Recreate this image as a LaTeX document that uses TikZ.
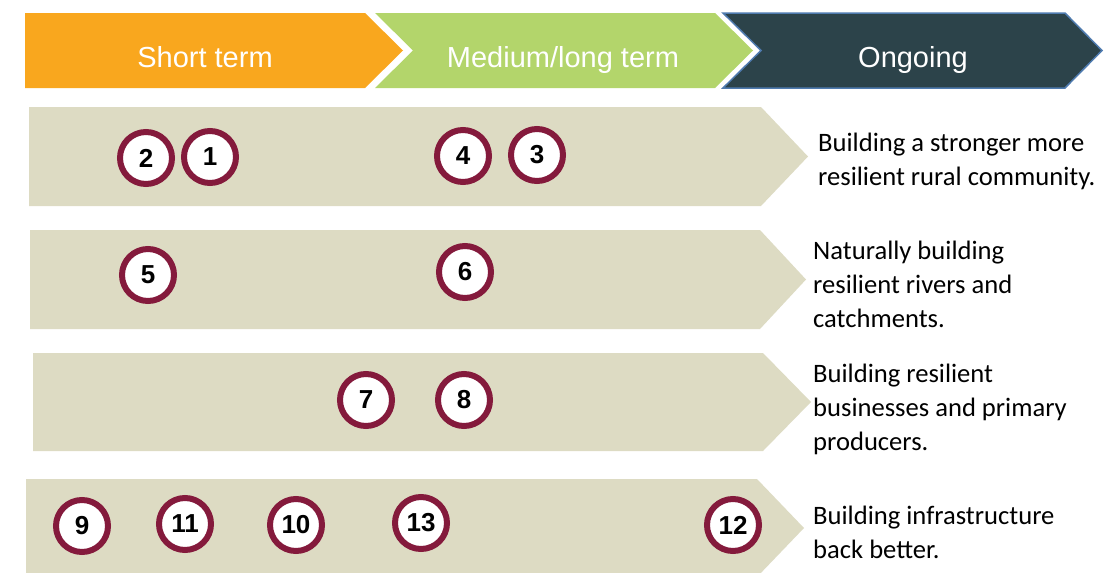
\documentclass[tikz,border=0pt]{standalone}
\usepackage{fontspec}
\setmainfont{Carlito}
\newfontfamily\headfont{Liberation Sans}
\definecolor{shortcol}{HTML}{F9A71E}
\definecolor{midcol}{HTML}{B3D56B}
\definecolor{ongoingcol}{HTML}{2C434A}
\definecolor{edgecol}{HTML}{4F7BAF}
\definecolor{bandcol}{HTML}{DDDBC3}
\definecolor{ringcol}{HTML}{841A3C}
\tikzset{
  phase/.style={anchor=base, text=white, inner sep=0pt, font=\headfont\fontsize{29}{29}\selectfont},
  band/.style={fill=bandcol},
  marker/.style={circle, draw=ringcol, line width=6pt, fill=white, minimum size=52pt, inner sep=0pt,
    font=\headfont\bfseries\fontsize{26}{26}\selectfont},
  goal/.style={anchor=west, align=left, inner sep=0pt, font=\fontsize{26.6}{34}\selectfont}
}
\begin{document}
\begin{tikzpicture}[x=1pt,y=-1pt]
\useasboundingbox (0,0) rectangle (1106,573);
% phase chevrons
\fill[shortcol] (25,13) -- (365,13) -- (403,50.5) -- (365,88) -- (25,88) -- cycle;
\fill[midcol] (375,13) -- (715,13) -- (753,50.5) -- (715,88) -- (375,88) -- (413,50.5) -- cycle;
\filldraw[fill=ongoingcol,draw=edgecol,line width=1.5pt] (723,13) -- (1065,13) -- (1102,50.5) -- (1065,88) -- (723,88) -- (761,50.5) -- cycle;
\node[phase] (short) at (205,67) {Short term};
\node[phase] (medium) at (563,67) {Medium/long term};
\node[phase] (ongoing) at (913,67) {Ongoing};
% bands
\fill[band] (29,107) -- (761,107) -- (808,156.5) -- (761,206) -- (29,206) -- cycle;
\fill[band] (30,230) -- (760,230) -- (806,279.5) -- (760,329) -- (30,329) -- cycle;
\fill[band] (33,353) -- (763,353) -- (811,402) -- (763,451) -- (33,451) -- cycle;
\fill[band] (26,479) -- (757,479) -- (804,528) -- (757,577) -- (26,577) -- cycle;
% numbered actions
\node[marker] (m2) at (146,158) {2};
\node[marker] (m1) at (210,157) {1};
\node[marker] (m4) at (463,156) {4};
\node[marker] (m3) at (537,155) {3};
\node[marker] (m5) at (148,275) {5};
\node[marker] (m6) at (465,272) {6};
\node[marker] (m7) at (366,400) {7};
\node[marker] (m8) at (464,400) {8};
\node[marker] (m9) at (82,526) {9};
\node[marker] (m11) at (185,524) {11};
\node[marker] (m10) at (296,525) {10};
\node[marker] (m13) at (421,523) {13};
\node[marker] (m12) at (733,525) {12};
% goals
\node[goal] (g1) at (818,161) {Building a stronger more\\resilient rural community.};
\node[goal] (g2) at (813,284) {Naturally building\\resilient rivers and\\catchments.};
\node[goal] (g3) at (813,409) {Building resilient\\businesses and primary\\producers.};
\node[goal] (g4) at (813,532) {Building infrastructure\\back better.};
\end{tikzpicture}
\end{document}
